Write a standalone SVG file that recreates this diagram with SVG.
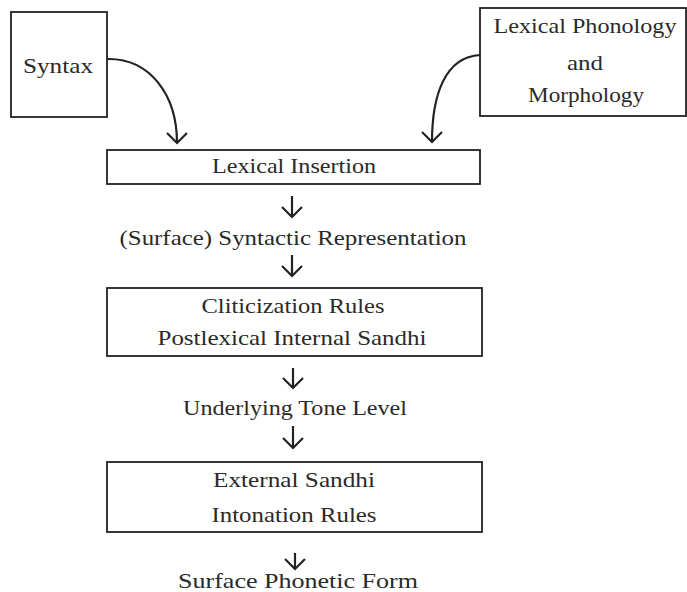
<svg xmlns="http://www.w3.org/2000/svg" width="687" height="592" viewBox="0 0 687 592">
<style>
.box{fill:none;stroke:#222;stroke-width:1.8}
.t{font-family:"Liberation Serif","DejaVu Serif",serif;font-size:21px;fill:#2a2a2a;text-anchor:middle}
.c{fill:none;stroke:#222;stroke-width:2.2;marker-end:url(#v)}
</style>
<defs>
<marker id="v" markerUnits="userSpaceOnUse" viewBox="-12 -12 14 24" refX="0" refY="0" markerWidth="14" markerHeight="24" orient="auto">
<path d="M-10,-10 L0,0 L-10,10" fill="none" stroke="#222" stroke-width="2.2"/>
</marker>
</defs>
<rect width="687" height="592" fill="#fff"/>
<g id="syntax">
<rect class="box" x="11" y="12" width="96" height="105"/>
<text class="t" x="58" y="73" textLength="70" lengthAdjust="spacingAndGlyphs">Syntax</text>
</g>
<g id="lexphon">
<rect class="box" x="480" y="8" width="206" height="108"/>
<text class="t" x="585" y="33" textLength="183" lengthAdjust="spacingAndGlyphs">Lexical Phonology</text>
<text class="t" x="585" y="70" textLength="36" lengthAdjust="spacingAndGlyphs">and</text>
<text class="t" x="586" y="102" textLength="116" lengthAdjust="spacingAndGlyphs">Morphology</text>
</g>
<g id="insertion">
<rect class="box" x="107" y="150" width="373" height="34"/>
<text class="t" x="294" y="173" textLength="164" lengthAdjust="spacingAndGlyphs">Lexical Insertion</text>
</g>
<g id="syntrep">
<text class="t" x="293" y="245" textLength="347" lengthAdjust="spacingAndGlyphs">(Surface) Syntactic Representation</text>
</g>
<g id="cliticization">
<rect class="box" x="107" y="288" width="375" height="68"/>
<text class="t" x="293" y="313" textLength="183" lengthAdjust="spacingAndGlyphs">Cliticization Rules</text>
<text class="t" x="292" y="345" textLength="269" lengthAdjust="spacingAndGlyphs">Postlexical Internal Sandhi</text>
</g>
<g id="tone">
<text class="t" x="295" y="415" textLength="224" lengthAdjust="spacingAndGlyphs">Underlying Tone Level</text>
</g>
<g id="external">
<rect class="box" x="107" y="462" width="375" height="70"/>
<text class="t" x="294" y="487" textLength="162" lengthAdjust="spacingAndGlyphs">External Sandhi</text>
<text class="t" x="294" y="522" textLength="165" lengthAdjust="spacingAndGlyphs">Intonation Rules</text>
</g>
<g id="surface">
<text class="t" x="298" y="588" textLength="240" lengthAdjust="spacingAndGlyphs">Surface Phonetic Form</text>
</g>
<g id="connectors">
<path class="c" d="M107,59 C150,58 177,95 177,143"/>
<path class="c" d="M480,55 C445,57 432,95 432,142"/>
<path class="c" d="M292,196 L292,217"/>
<path class="c" d="M292,255 L292,276"/>
<path class="c" d="M293,368 L293,388"/>
<path class="c" d="M293,426 L293,448"/>
<path class="c" d="M295,553 L295,569"/>
</g>
</svg>
